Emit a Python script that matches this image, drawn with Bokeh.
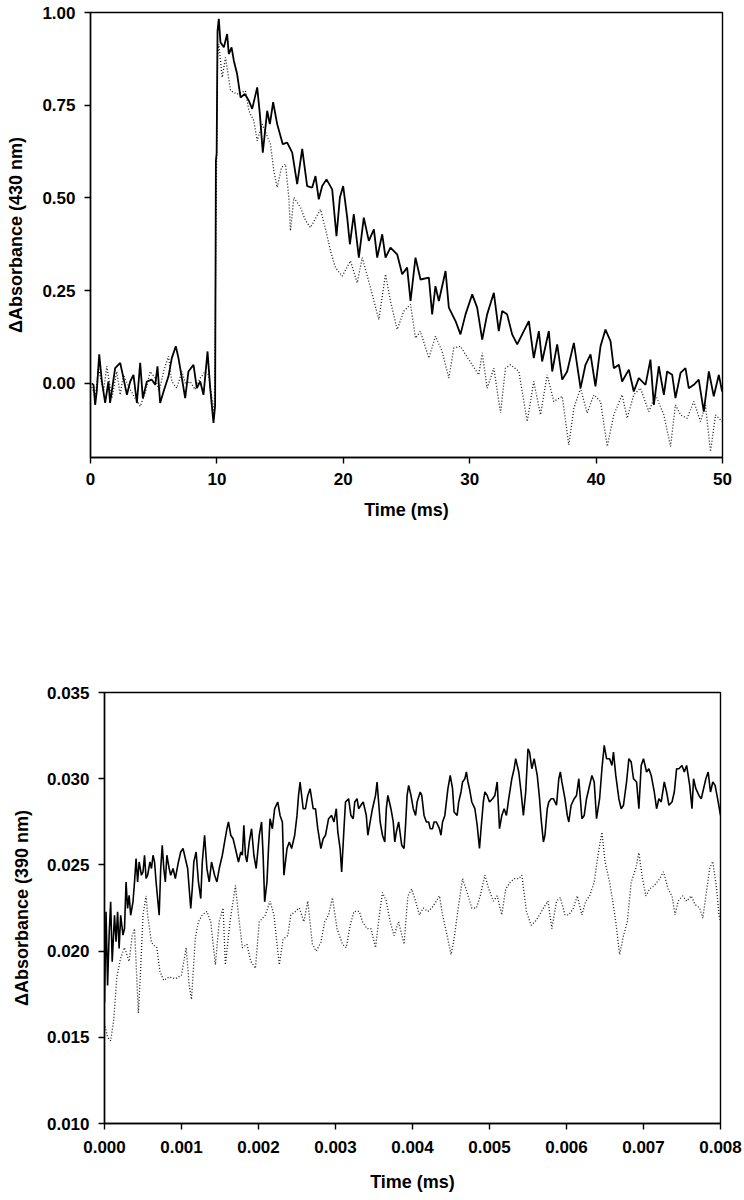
from bokeh.plotting import figure
from bokeh.models import FixedTicker, PrintfTickFormatter, Range1d
from bokeh.embed import file_html
from bokeh.resources import INLINE

# ---------------- Top panel data (430 nm) ----------------
top_solid_t = [0.10, 0.24, 0.37, 0.50, 0.69, 0.90, 1.16, 1.42, 1.55, 1.95, 2.35, 2.61, 2.88, 3.14, 3.40,
               3.67, 3.93, 4.14, 4.46, 4.85, 5.12, 5.30, 5.51, 5.78, 6.17, 6.43, 6.75, 6.96, 7.23, 7.49,
               7.75, 8.15, 8.41, 8.68, 8.94, 9.26, 9.47, 9.73, 9.86, 9.92, 9.98, 10.05, 10.15, 10.28,
               10.55, 10.81, 10.94, 11.16, 11.34, 11.60, 11.87, 12.21, 12.53, 12.79, 13.19, 13.40, 13.63,
               13.98, 14.19, 14.45, 14.77, 15.21, 15.56, 15.96, 16.35, 16.75, 17.14, 17.54, 17.80, 18.06,
               18.33, 18.67, 19.12, 19.46, 19.73, 19.99, 20.31, 20.52, 20.83, 21.23, 21.62, 22.02, 22.42,
               22.68, 23.08, 23.34, 23.73, 24.26, 24.66, 25.05, 25.32, 25.71, 26.11, 26.77, 27.03, 27.29,
               27.56, 28.09, 28.35, 28.88, 29.27, 29.67, 30.20, 30.59, 30.99, 31.38, 31.91, 32.30, 32.57,
               32.96, 33.36, 33.76, 34.15, 34.68, 35.07, 35.47, 35.73, 36.26, 36.53, 36.92, 37.32, 37.71,
               38.24, 38.77, 39.16, 39.56, 39.95, 40.35, 40.74, 41.14, 41.40, 41.80, 42.06, 42.59, 42.98,
               43.38, 43.91, 44.30, 44.57, 44.96, 45.36, 45.62, 46.02, 46.28, 46.68, 47.07, 47.33, 47.73,
               48.12, 48.52, 48.92, 49.31, 49.71, 49.97]
top_solid_v = [0.000, -0.004, -0.058, -0.020, 0.078, 0.005, -0.053, 0.005, -0.053, 0.041, 0.055, 0.014,
               -0.031, 0.005, 0.023, -0.053, 0.055, -0.040, 0.005, 0.010, -0.004, 0.046, -0.053, -0.022,
               0.019, 0.068, 0.100, 0.068, 0.014, -0.040, 0.032, 0.050, -0.013, 0.005, -0.031, 0.086,
               -0.013, -0.107, -0.060, 0.600, 0.620, 0.950, 0.983, 0.920, 0.906, 0.942, 0.888, 0.906,
               0.870, 0.834, 0.771, 0.780, 0.762, 0.740, 0.798, 0.726, 0.622, 0.735, 0.699, 0.758, 0.699,
               0.645, 0.649, 0.622, 0.537, 0.632, 0.532, 0.528, 0.559, 0.496, 0.532, 0.550, 0.523, 0.397,
               0.501, 0.532, 0.447, 0.375, 0.456, 0.339, 0.447, 0.384, 0.415, 0.339, 0.402, 0.339, 0.366,
               0.348, 0.294, 0.312, 0.222, 0.339, 0.280, 0.285, 0.186, 0.262, 0.222, 0.303, 0.204, 0.168,
               0.132, 0.186, 0.240, 0.204, 0.118, 0.186, 0.244, 0.141, 0.195, 0.186, 0.132, 0.105, 0.132,
               0.168, 0.068, 0.141, 0.059, 0.141, 0.032, 0.105, 0.010, 0.032, 0.109, -0.013, 0.050, 0.078,
               -0.008, 0.100, 0.145, 0.114, 0.041, 0.050, 0.005, 0.037, -0.022, 0.014, -0.004, 0.064,
               -0.058, 0.046, -0.031, 0.032, 0.023, -0.040, 0.028, 0.041, -0.013, -0.004, 0.010, -0.076,
               0.032, -0.035, 0.023, -0.022]

top_dot_t = [0.10, 0.24, 0.40, 0.63, 1.03, 1.29, 1.69, 2.08, 2.35, 2.61, 3.00, 3.53, 3.93, 4.33, 4.72,
             5.12, 5.43, 5.78, 6.17, 6.43, 6.83, 7.23, 7.54, 7.88, 8.28, 8.68, 9.07, 9.34, 9.60, 9.80,
             9.95, 10.05, 10.15, 10.42, 10.68, 11.08, 11.60, 12.26, 12.53, 12.92, 13.19, 13.58, 14.24,
             14.50, 14.77, 15.11, 15.43, 15.69, 15.82, 16.09, 16.61, 17.00, 17.40, 18.20, 18.60, 18.99,
             19.38, 19.91, 20.57, 21.10, 21.50, 22.15, 22.81, 23.34, 23.73, 24.26, 24.79, 25.32, 25.71,
             26.10, 26.77, 27.29, 27.82, 28.35, 28.74, 29.27, 29.67, 30.20, 30.72, 30.99, 31.38, 31.91,
             32.44, 32.83, 33.23, 33.89, 34.55, 35.07, 35.60, 36.13, 36.65, 37.32, 37.84, 38.24, 38.77,
             39.29, 39.82, 40.35, 40.88, 41.40, 42.06, 42.46, 42.98, 43.51, 44.17, 44.70, 45.36, 45.89,
             46.28, 46.68, 47.20, 47.73, 48.26, 48.65, 49.05, 49.45, 49.97]
top_dot_v = [-0.010, -0.022, -0.030, 0.041, -0.022, 0.046, -0.040, 0.032, -0.031, 0.023, -0.008, -0.040,
             -0.062, -0.026, 0.032, 0.014, -0.022, 0.032, 0.073, 0.005, -0.013, 0.032, -0.004, 0.005,
             -0.017, 0.014, 0.032, 0.023, -0.040, -0.080, 0.500, 0.880, 0.915, 0.825, 0.879, 0.789,
             0.780, 0.789, 0.735, 0.708, 0.654, 0.699, 0.645, 0.573, 0.528, 0.582, 0.591, 0.501, 0.411,
             0.501, 0.474, 0.440, 0.420, 0.469, 0.415, 0.357, 0.312, 0.289, 0.330, 0.271, 0.339, 0.258,
             0.172, 0.294, 0.222, 0.145, 0.195, 0.213, 0.122, 0.140, 0.068, 0.127, 0.086, 0.014, 0.095,
             0.100, 0.078, 0.050, 0.023, 0.082, -0.013, 0.041, -0.080, 0.041, 0.050, 0.032, -0.103,
             0.005, -0.085, 0.023, -0.049, -0.035, -0.166, -0.067, -0.013, -0.080, -0.031, -0.049,
             -0.170, -0.085, -0.031, -0.094, -0.031, -0.013, -0.076, -0.031, -0.085, -0.170, -0.058,
             -0.085, -0.094, -0.049, -0.103, -0.058, -0.184, -0.085, -0.103]

top_x_ticks = [0, 10, 20, 30, 40, 50]
top_y_ticks = [0.0, 0.25, 0.5, 0.75, 1.0]

# ---------------- Bottom panel data (390 nm) ----------------
bot_solid_t = [0.00000, 0.00002, 0.00004, 0.00006, 0.00008, 0.00010, 0.00013, 0.00015, 0.00017, 0.00019,
               0.00021, 0.00024, 0.00026, 0.00028, 0.00030, 0.00032, 0.00034, 0.00037, 0.00039, 0.00041,
               0.00043, 0.00045, 0.00048, 0.00050, 0.00052, 0.00054, 0.00056, 0.00059, 0.00061, 0.00063,
               0.00065, 0.00067, 0.00071, 0.00073, 0.00075, 0.00077, 0.00079, 0.00081, 0.00084, 0.00086,
               0.00089, 0.00092, 0.00096, 0.00099, 0.00102, 0.00106, 0.00108, 0.00110, 0.00112, 0.00114,
               0.00116, 0.00119, 0.00122, 0.00125, 0.00127, 0.00130, 0.00133, 0.00136, 0.00139, 0.00143,
               0.00146, 0.00149, 0.00153, 0.00156, 0.00159, 0.00161, 0.00164, 0.00167, 0.00170, 0.00172,
               0.00174, 0.00177, 0.00179, 0.00181, 0.00183, 0.00185, 0.00188, 0.00191, 0.00194, 0.00197,
               0.00201, 0.00204, 0.00206, 0.00208, 0.00211, 0.00213, 0.00215, 0.00218, 0.00221, 0.00225,
               0.00228, 0.00231, 0.00233, 0.00237, 0.00240, 0.00243, 0.00247, 0.00250, 0.00252, 0.00254,
               0.00258, 0.00261, 0.00264, 0.00267, 0.00271, 0.00274, 0.00277, 0.00281, 0.00284, 0.00287,
               0.00291, 0.00295, 0.00298, 0.00301, 0.00303, 0.00306, 0.00308, 0.00311, 0.00313, 0.00317,
               0.00320, 0.00323, 0.00325, 0.00328, 0.00330, 0.00333, 0.00336, 0.00340, 0.00342, 0.00345,
               0.00348, 0.00352, 0.00354, 0.00356, 0.00358, 0.00361, 0.00364, 0.00366, 0.00368, 0.00370,
               0.00372, 0.00375, 0.00377, 0.00379, 0.00382, 0.00386, 0.00389, 0.00391, 0.00393, 0.00395,
               0.00398, 0.00401, 0.00404, 0.00406, 0.00410, 0.00412, 0.00415, 0.00418, 0.00421, 0.00423,
               0.00426, 0.00428, 0.00431, 0.00435, 0.00437, 0.00439, 0.00442, 0.00446, 0.00449, 0.00452,
               0.00454, 0.00458, 0.00460, 0.00463, 0.00465, 0.00468, 0.00470, 0.00472, 0.00474, 0.00477,
               0.00481, 0.00484, 0.00487, 0.00489, 0.00492, 0.00494, 0.00497, 0.00500, 0.00504, 0.00507,
               0.00510, 0.00513, 0.00516, 0.00519, 0.00522, 0.00525, 0.00529, 0.00532, 0.00534, 0.00538,
               0.00541, 0.00544, 0.00547, 0.00550, 0.00552, 0.00555, 0.00558, 0.00562, 0.00565, 0.00567,
               0.00570, 0.00572, 0.00575, 0.00577, 0.00580, 0.00583, 0.00587, 0.00590, 0.00592, 0.00594,
               0.00598, 0.00601, 0.00603, 0.00606, 0.00610, 0.00613, 0.00616, 0.00620, 0.00623, 0.00626,
               0.00629, 0.00633, 0.00636, 0.00639, 0.00643, 0.00646, 0.00649, 0.00652, 0.00656, 0.00659,
               0.00661, 0.00664, 0.00668, 0.00671, 0.00674, 0.00678, 0.00681, 0.00684, 0.00687, 0.00691,
               0.00694, 0.00697, 0.00700, 0.00704, 0.00707, 0.00710, 0.00714, 0.00717, 0.00720, 0.00723,
               0.00727, 0.00730, 0.00733, 0.00737, 0.00740, 0.00743, 0.00746, 0.00750, 0.00753, 0.00756,
               0.00760, 0.00763, 0.00765, 0.00768, 0.00772, 0.00775, 0.00778, 0.00781, 0.00784, 0.00787,
               0.00790, 0.00793, 0.00797, 0.00800]
bot_solid_v = [0.01700, 0.02228, 0.01800, 0.02093, 0.02286, 0.01938, 0.02208, 0.02054, 0.02228, 0.02015,
               0.02208, 0.02093, 0.02131, 0.02401, 0.02247, 0.02324, 0.02208, 0.02286, 0.02401, 0.02537,
               0.02401, 0.02517, 0.02440, 0.02459, 0.02556, 0.02421, 0.02440, 0.02517, 0.02479, 0.02556,
               0.02517, 0.02401, 0.02208, 0.02479, 0.02614, 0.02479, 0.02401, 0.02556, 0.02479, 0.02440,
               0.02479, 0.02421, 0.02517, 0.02575, 0.02595, 0.02517, 0.02479, 0.02363, 0.02247, 0.02363,
               0.02517, 0.02575, 0.02401, 0.02305, 0.02517, 0.02672, 0.02479, 0.02401, 0.02517, 0.02440,
               0.02401, 0.02479, 0.02556, 0.02633, 0.02710, 0.02749, 0.02672, 0.02652, 0.02595, 0.02556,
               0.02517, 0.02575, 0.02556, 0.02730, 0.02556, 0.02517, 0.02633, 0.02710, 0.02556, 0.02479,
               0.02672, 0.02749, 0.02556, 0.02286, 0.02401, 0.02595, 0.02768, 0.02710, 0.02826, 0.02865,
               0.02787, 0.02749, 0.02440, 0.02595, 0.02633, 0.02595, 0.02672, 0.02787, 0.02903, 0.02981,
               0.02826, 0.02826, 0.02903, 0.02942, 0.02826, 0.02826, 0.02710, 0.02595, 0.02652, 0.02672,
               0.02768, 0.02787, 0.02749, 0.02826, 0.02691, 0.02595, 0.02459, 0.02710, 0.02865, 0.02884,
               0.02787, 0.02768, 0.02865, 0.02884, 0.02826, 0.02846, 0.02865, 0.02787, 0.02672, 0.02749,
               0.02826, 0.02903, 0.02981, 0.02865, 0.02749, 0.02672, 0.02633, 0.02826, 0.02903, 0.02865,
               0.02826, 0.02749, 0.02633, 0.02691, 0.02749, 0.02614, 0.02595, 0.02730, 0.02903, 0.02961,
               0.02903, 0.02826, 0.02787, 0.02865, 0.02923, 0.02903, 0.02787, 0.02749, 0.02749, 0.02710,
               0.02710, 0.02749, 0.02749, 0.02710, 0.02672, 0.02749, 0.02787, 0.02942, 0.03019, 0.02942,
               0.02807, 0.02787, 0.02865, 0.02923, 0.02981, 0.03000, 0.03039, 0.02981, 0.02942, 0.02865,
               0.02826, 0.02730, 0.02595, 0.02710, 0.02865, 0.02923, 0.02903, 0.02865, 0.02884, 0.02903,
               0.02981, 0.02710, 0.02787, 0.02826, 0.02787, 0.02884, 0.03000, 0.03058, 0.03116, 0.03039,
               0.02923, 0.02787, 0.02923, 0.03174, 0.03154, 0.03058, 0.03116, 0.03019, 0.02884, 0.02768,
               0.02633, 0.02672, 0.02826, 0.02865, 0.02884, 0.02884, 0.02846, 0.03000, 0.03039, 0.02981,
               0.02884, 0.02787, 0.02749, 0.02846, 0.02884, 0.02903, 0.03000, 0.02768, 0.02787, 0.02884,
               0.02942, 0.03019, 0.02981, 0.02768, 0.02884, 0.03058, 0.03193, 0.03116, 0.03116, 0.03077,
               0.03154, 0.03019, 0.02884, 0.02826, 0.02846, 0.02981, 0.03116, 0.03097, 0.03000, 0.02981,
               0.02826, 0.03077, 0.03116, 0.03039, 0.03058, 0.03019, 0.02923, 0.02826, 0.02884, 0.02865,
               0.02981, 0.02923, 0.02846, 0.02865, 0.02923, 0.03058, 0.03058, 0.03077, 0.03039, 0.03077,
               0.02961, 0.02826, 0.03000, 0.02942, 0.02903, 0.02884, 0.02942, 0.03000, 0.03039, 0.02923,
               0.02981, 0.02961, 0.02865, 0.02787]

bot_dot_t = [0.00000, 0.00004, 0.00008, 0.00012, 0.00016, 0.00021, 0.00026, 0.00032, 0.00036, 0.00039,
             0.00044, 0.00047, 0.00050, 0.00054, 0.00056, 0.00061, 0.00065, 0.00068, 0.00072, 0.00077,
             0.00084, 0.00092, 0.00100, 0.00106, 0.00110, 0.00113, 0.00118, 0.00122, 0.00127, 0.00133,
             0.00138, 0.00144, 0.00149, 0.00154, 0.00157, 0.00163, 0.00170, 0.00174, 0.00179, 0.00185,
             0.00190, 0.00196, 0.00201, 0.00209, 0.00215, 0.00220, 0.00227, 0.00232, 0.00238, 0.00242,
             0.00248, 0.00253, 0.00259, 0.00264, 0.00270, 0.00275, 0.00281, 0.00286, 0.00291, 0.00296,
             0.00302, 0.00309, 0.00314, 0.00319, 0.00324, 0.00331, 0.00335, 0.00341, 0.00346, 0.00352,
             0.00357, 0.00361, 0.00366, 0.00371, 0.00376, 0.00382, 0.00389, 0.00394, 0.00399, 0.00404,
             0.00409, 0.00414, 0.00420, 0.00425, 0.00431, 0.00435, 0.00439, 0.00445, 0.00450, 0.00454,
             0.00460, 0.00465, 0.00471, 0.00477, 0.00483, 0.00488, 0.00494, 0.00499, 0.00505, 0.00510,
             0.00516, 0.00521, 0.00527, 0.00532, 0.00538, 0.00542, 0.00548, 0.00554, 0.00559, 0.00565,
             0.00570, 0.00576, 0.00581, 0.00587, 0.00592, 0.00598, 0.00603, 0.00609, 0.00614, 0.00620,
             0.00625, 0.00630, 0.00636, 0.00641, 0.00646, 0.00650, 0.00656, 0.00660, 0.00664, 0.00669,
             0.00674, 0.00679, 0.00684, 0.00690, 0.00694, 0.00698, 0.00703, 0.00708, 0.00714, 0.00721,
             0.00726, 0.00732, 0.00737, 0.00741, 0.00745, 0.00751, 0.00756, 0.00762, 0.00767, 0.00773,
             0.00777, 0.00781, 0.00786, 0.00790, 0.00795, 0.00798, 0.00800]
bot_dot_v = [0.0158, 0.0150, 0.0148, 0.0160, 0.0185, 0.0196, 0.0202, 0.0194, 0.0209, 0.0213,
             0.0164, 0.0190, 0.0221, 0.0232, 0.0221, 0.0205, 0.0203, 0.0202, 0.0188, 0.0183,
             0.0185, 0.0184, 0.0186, 0.0202, 0.0180, 0.0172, 0.0208, 0.0217, 0.0221, 0.0223,
             0.0217, 0.0192, 0.0217, 0.0225, 0.0192, 0.0217, 0.0238, 0.0221, 0.0202, 0.0204,
             0.0194, 0.0190, 0.0217, 0.0221, 0.0229, 0.0221, 0.0192, 0.0207, 0.0209, 0.0221,
             0.0223, 0.0225, 0.0217, 0.0229, 0.0204, 0.0200, 0.0205, 0.0217, 0.0221, 0.0231,
             0.0213, 0.0204, 0.0202, 0.0215, 0.0223, 0.0223, 0.0217, 0.0213, 0.0213, 0.0202,
             0.0221, 0.0234, 0.0229, 0.0217, 0.0209, 0.0217, 0.0204, 0.0232, 0.0236, 0.0229,
             0.0221, 0.0225, 0.0223, 0.0225, 0.0229, 0.0232, 0.0221, 0.0209, 0.0198, 0.0207,
             0.0227, 0.0242, 0.0234, 0.0225, 0.0225, 0.0232, 0.0244, 0.0236, 0.0229, 0.0232,
             0.0221, 0.0236, 0.0240, 0.0242, 0.0242, 0.0244, 0.0223, 0.0215, 0.0217, 0.0221,
             0.0225, 0.0229, 0.0213, 0.0229, 0.0231, 0.0221, 0.0221, 0.0225, 0.0232, 0.0221,
             0.0229, 0.0232, 0.0240, 0.0256, 0.0269, 0.0252, 0.0240, 0.0229, 0.0217, 0.0198,
             0.0209, 0.0217, 0.0240, 0.0248, 0.0257, 0.0244, 0.0232, 0.0236, 0.0238, 0.0242,
             0.0246, 0.0236, 0.0232, 0.0221, 0.0229, 0.0232, 0.0229, 0.0232, 0.0227, 0.0225,
             0.0219, 0.0232, 0.0248, 0.0252, 0.0236, 0.0221, 0.0217]

bot_x_ticks = [0.000, 0.001, 0.002, 0.003, 0.004, 0.005, 0.006, 0.007, 0.008]
bot_y_ticks = [0.010, 0.015, 0.020, 0.025, 0.030, 0.035]

FONT = "Liberation Sans"


def style(p, xlabel, ylabel, xfmt, yfmt, xticks, yticks, x_std, x_lab_std, y_lab_std):
    p.xgrid.visible = False
    p.ygrid.visible = False
    p.outline_line_color = "black"
    p.outline_line_width = 1.4
    p.outline_line_alpha = 1.0
    p.background_fill_color = "white"
    p.border_fill_color = "white"
    p.xaxis.ticker = FixedTicker(ticks=xticks)
    p.yaxis.ticker = FixedTicker(ticks=yticks)
    p.xaxis.formatter = PrintfTickFormatter(format=xfmt)
    p.yaxis.formatter = PrintfTickFormatter(format=yfmt)
    p.xaxis.axis_label = xlabel
    p.yaxis.axis_label = ylabel
    for ax in (p.xaxis, p.yaxis):
        ax.axis_line_color = "black"
        ax.axis_line_width = 1.4
        ax.major_tick_line_color = "black"
        ax.major_tick_line_width = 1.4
        ax.major_tick_out = 6
        ax.major_tick_in = 0
        ax.minor_tick_line_color = None
        ax.major_label_text_font = FONT
        ax.major_label_text_font_size = "17px"
        ax.major_label_text_font_style = "bold"
        ax.major_label_text_color = "black"
        ax.axis_label_text_font = FONT
        ax.axis_label_text_font_size = "18px"
        ax.axis_label_text_font_style = "bold"
        ax.axis_label_text_color = "black"
    p.yaxis.major_label_standoff = 9
    p.xaxis.major_label_standoff = x_std
    p.xaxis.axis_label_standoff = x_lab_std
    p.yaxis.axis_label_standoff = y_lab_std


# ---------------- Top figure ----------------
p1 = figure(width=744, height=560, output_backend="svg", toolbar_location=None,
            x_range=Range1d(0, 50), y_range=Range1d(-0.2, 1.0),
            min_border_left=90, min_border_right=22, min_border_top=12, min_border_bottom=103)
p1.line(top_dot_t, top_dot_v, line_color="#1a1a1a", line_width=1.3, line_dash="1 2")
p1.line(top_solid_t, top_solid_v, line_color="black", line_width=1.8)
style(p1, "Time (ms)", "ΔAbsorbance (430 nm)", "%d", "%.2f", top_x_ticks, top_y_ticks, 9, 12, 13)

# ---------------- Bottom figure ----------------
p2 = figure(width=744, height=635, output_backend="svg", toolbar_location=None,
            x_range=Range1d(0, 0.008), y_range=Range1d(0.010, 0.035),
            min_border_left=104, min_border_right=24, min_border_top=132, min_border_bottom=72)
p2.line(bot_dot_t, bot_dot_v, line_color="#1a1a1a", line_width=1.3, line_dash="1 2")
p2.line(bot_solid_t, bot_solid_v, line_color="black", line_width=1.6)
style(p2, "Time (ms)", "ΔAbsorbance (390 nm)", "%.3f", "%.3f", bot_x_ticks, bot_y_ticks, 11, 16, 12)

open("out.html", "w").write(file_html([p1, p2], INLINE))
